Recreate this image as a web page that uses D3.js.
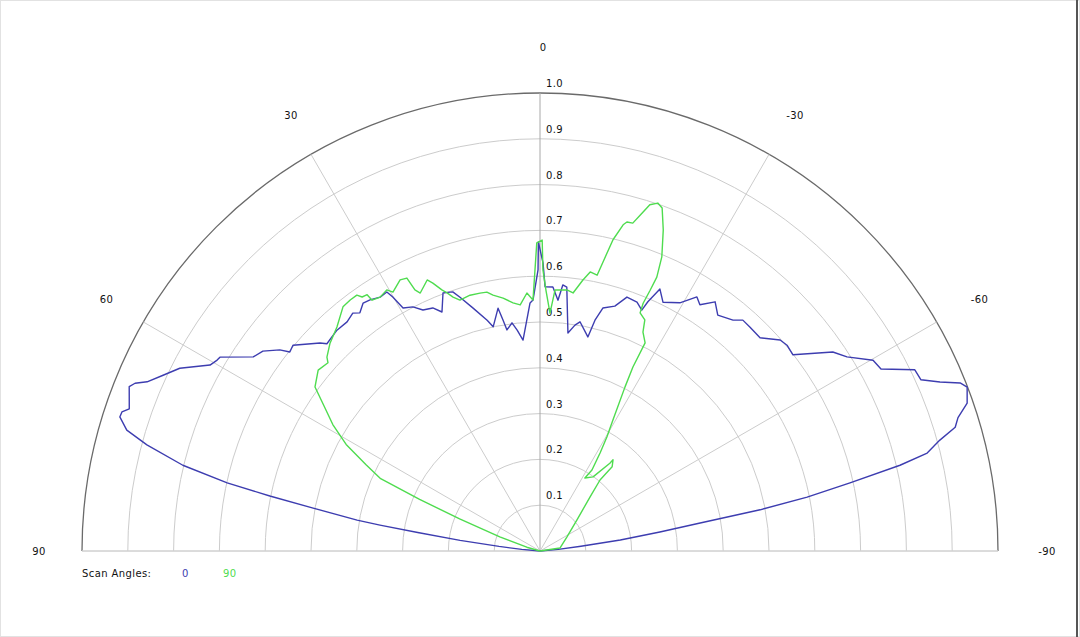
<!DOCTYPE html>
<html>
<head>
<meta charset="utf-8">
<script src="https://cdn.jsdelivr.net/npm/d3@7"></script>
<style>
  body { margin: 0; background: #fff; }
  text { font-family: "DejaVu Sans", Verdana, sans-serif; font-size: 10px; fill: #111; letter-spacing: 0.4px; }
</style>
</head>
<body>
<div id="chart"></div>
<script>
// ring values (relative level) and spoke angles (degrees, + is to the left)
const ringValues = [0.1, 0.2, 0.3, 0.4, 0.5, 0.6, 0.7, 0.8, 0.9, 1.0]
const ringLabels = ["0.1", "0.2", "0.3", "0.4", "0.5", "0.6", "0.7", "0.8", "0.9", "1.0"]
const spokeAngles = [90, 60, 30, 0, -30, -60, -90]
const spokeLabels = ["90", "60", "30", "0", "-30", "-60", "-90"]

const seriesNames = ["0", "90"]
const seriesColors = ["#3d3db0", "#4fdc4f"]

// scan angle 0 : [angle, level]
const scan0 = [
  [90, 0], [85, 0.04], [83.6, 0.09], [82.4, 0.176], [81.4, 0.27], [80.8, 0.354], [80.4, 0.405],
  [79.3, 0.504], [78.5, 0.602],
  [77.7, 0.699], [76.5, 0.802], [74.9, 0.889], [73.7, 0.940], [72.3, 0.963], [71.6, 0.962],
  [70.9, 0.949], [68.2, 0.966], [67.5, 0.957], [66.7, 0.934], [65.0, 0.908], [63.1, 0.882],
  [60.6, 0.827], [59.4, 0.819], [58.8, 0.817], [55.9, 0.756], [54.2, 0.746], [52.3, 0.718],
  [51.5, 0.698], [50.2, 0.702], [46.6, 0.661], [45.8, 0.649], [42.6, 0.655], [40.1, 0.654],
  [38.2, 0.661], [37.1, 0.652], [35.5, 0.665], [34.1, 0.662], [32.2, 0.655], [30.6, 0.657],
  [30.1, 0.641], [29.4, 0.609], [27.5, 0.601], [25.9, 0.585], [23.8, 0.580], [22.3, 0.564],
  [20.6, 0.602], [18.6, 0.597], [17.5, 0.581], [15.4, 0.550], [12.9, 0.517], [11.8, 0.500],
  [9.8, 0.538], [9.1, 0.511], [8.5, 0.488], [7.0, 0.502], [5.9, 0.485], [4.6, 0.462],
  [2.3, 0.542], [1.6, 0.548], [0.4, 0.614], [0.3, 0.675], [-0.6, 0.629], [-1.1, 0.577],
  [-2.8, 0.577], [-4.1, 0.549], [-4.9, 0.583], [-5.8, 0.579], [-7.3, 0.480], [-8.8, 0.499],
  [-9.9, 0.508], [-12.6, 0.479], [-13.4, 0.518], [-14.5, 0.548], [-17.0, 0.559], [-18.9, 0.586],
  [-21.3, 0.583], [-22.9, 0.571], [-23.4, 0.593], [-24.6, 0.629], [-26.3, 0.606], [-29.4, 0.622],
  [-31.7, 0.652], [-33.0, 0.641], [-35.1, 0.665], [-37.0, 0.645], [-39.9, 0.657], [-41.3, 0.671],
  [-43.2, 0.670], [-45.9, 0.669], [-48.7, 0.698], [-50.2, 0.702], [-52.2, 0.699], [-55.8, 0.773],
  [-57.7, 0.793], [-60.2, 0.838], [-61.9, 0.844], [-64.2, 0.909], [-65.8, 0.912], [-67.1, 0.948],
  [-68.2, 0.988], [-69.0, 0.999], [-70.9, 0.987], [-72.3, 0.958], [-73.4, 0.946], [-74.5, 0.906],
  [-75.8, 0.872], [-76.6, 0.808], [-77.6, 0.693], [-78.6, 0.595], [-79.4, 0.489], [-80.1, 0.355],
  [-81.0, 0.265], [-82.2, 0.177], [-83.4, 0.09], [-85, 0.04], [-90, 0]
]

// scan angle 90 : [angle, level]
const scan90 = [
  [90, 0], [74, 0.03], [70.7, 0.093], [68.2, 0.189], [66.8, 0.286], [65.6, 0.382], [63.6, 0.424],
  [61.2, 0.483], [58.6, 0.53], [56.0, 0.57], [53.9, 0.608], [50.8, 0.625], [48.4, 0.619],
  [47.7, 0.629], [45.3, 0.645], [42.2, 0.660], [38.9, 0.685], [37.1, 0.687], [35.6, 0.687],
  [35.0, 0.677], [34.0, 0.675], [33.8, 0.659], [32.2, 0.655], [30.4, 0.661], [29.6, 0.650],
  [27.3, 0.666], [26.0, 0.663], [25.6, 0.632], [24.9, 0.621], [22.6, 0.641], [21.8, 0.630],
  [20.6, 0.609], [19.8, 0.599], [18.9, 0.586], [17.7, 0.575], [15.3, 0.579], [13.1, 0.578],
  [11.6, 0.577], [10.4, 0.568], [8.3, 0.558], [6.2, 0.545], [4.6, 0.539], [2.9, 0.564],
  [1.6, 0.548], [0.6, 0.673], [-0.4, 0.679], [-0.6, 0.614], [-1.3, 0.570], [-2.4, 0.520],
  [-3.3, 0.571], [-5.9, 0.573], [-7.3, 0.568], [-9.0, 0.599], [-10.2, 0.619], [-11.7, 0.615],
  [-12.3, 0.646], [-13.2, 0.698], [-14.3, 0.735], [-14.8, 0.743], [-15.8, 0.744], [-16.6, 0.765],
  [-17.6, 0.793], [-18.7, 0.802], [-19.6, 0.795], [-21.0, 0.751], [-22.5, 0.695], [-23.1, 0.650],
  [-22.9, 0.618], [-22.6, 0.586], [-22.8, 0.564], [-24.4, 0.554], [-25.2, 0.528], [-26.8, 0.509],
  [-26.8, 0.450], [-27.4, 0.403], [-29.1, 0.327], [-30.4, 0.289], [-31.5, 0.251], [-32.7, 0.210],
  [-31.6, 0.187], [-35.6, 0.199], [-38.5, 0.245], [-38.7, 0.255], [-40.6, 0.242], [-40.2, 0.203],
  [-42.8, 0.161], [-50.0, 0.105], [-62.6, 0.066], [-81.5, 0.044], [-90, 0]
]

const width = 1080
const height = 637
const cx = 540
const cy = 551
const radius = 458

const svg = d3.select("#chart")
  .append("svg")
    .attr("width", width)
    .attr("height", height)

// frame: light all round, darker on the right edge
svg.append("rect")
  .attr("x", 0.5).attr("y", 0.5)
  .attr("width", width - 1).attr("height", height - 1)
  .attr("fill", "none")
  .attr("stroke", "#e2e2e2")
svg.append("line")
  .attr("x1", 1077).attr("x2", 1077)
  .attr("y1", 0).attr("y2", height)
  .attr("stroke", "#555")
  .attr("stroke-width", 2)

const bounds = svg.append("g")
  .attr("transform", `translate(${cx},${cy})`)

const rScale = d3.scaleLinear().domain([0, 1]).range([0, radius])
const toRad = deg => -deg * Math.PI / 180

// rings
ringValues.forEach((v, i) => {
  const p = d3.path()
  p.arc(0, 0, rScale(v), Math.PI, 2 * Math.PI)
  bounds.append("path")
    .attr("d", p.toString())
    .attr("fill", "none")
    .attr("stroke", i === ringValues.length - 1 ? "#6a6a6a" : "#cccccc")
    .attr("stroke-width", i === ringValues.length - 1 ? 1.3 : 1)
})

// baseline
bounds.append("line")
  .attr("x1", -radius).attr("x2", radius)
  .attr("y1", 0).attr("y2", 0)
  .attr("stroke", "#d8d8d8")

// spokes
spokeAngles.forEach(a => {
  const t = toRad(a)
  bounds.append("line")
    .attr("x1", 0).attr("y1", 0)
    .attr("x2", rScale(1) * Math.sin(t))
    .attr("y2", -rScale(1) * Math.cos(t))
    .attr("stroke", a === 0 ? "#a8a8a8" : "#cccccc")
})

// ring labels
ringValues.forEach((v, i) => {
  bounds.append("text")
    .attr("x", 6)
    .attr("y", -rScale(v) - 6)
    .text(ringLabels[i])
})

// angle labels
spokeAngles.forEach((a, i) => {
  const t = toRad(a)
  const lr = rScale(1) + 46
  bounds.append("text")
    .attr("x", lr * Math.sin(t) + 3)
    .attr("y", -lr * Math.cos(t) + 4)
    .attr("text-anchor", "middle")
    .text(spokeLabels[i])
})

// curves
const lineGen = d3.lineRadial()
  .angle(d => toRad(d[0]))
  .radius(d => rScale(d[1]))

;[scan0, scan90].forEach((series, i) => {
  bounds.append("path")
    .datum(series)
    .attr("d", lineGen)
    .attr("fill", "none")
    .attr("stroke", seriesColors[i])
    .attr("stroke-width", 1.4)
    .attr("stroke-linejoin", "round")
})

// legend
const legend = svg.append("g")
  .attr("transform", "translate(82,577)")
legend.append("text").text("Scan Angles:")
seriesNames.forEach((n, i) => {
  legend.append("text")
    .attr("x", 100 + i * 41)
    .style("fill", seriesColors[i])
    .text(n)
})
</script>
</body>
</html>
